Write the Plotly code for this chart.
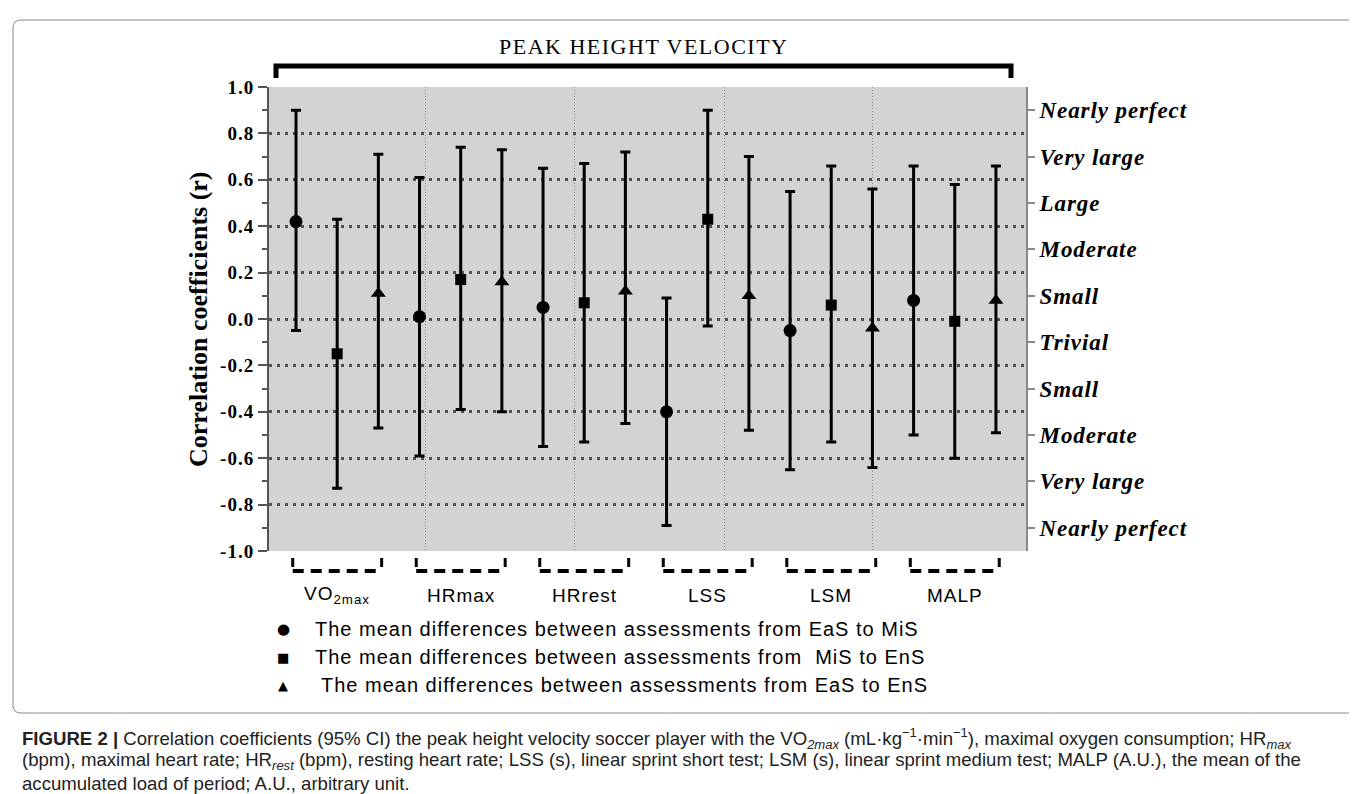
import plotly.graph_objects as go

# ---------------- data ----------------
groups = ["VO<sub>2max</sub>", "HRmax", "HRrest", "LSS", "LSM", "MALP"]

eas_mis_r  = [0.42, 0.01, 0.05, -0.40, -0.05, 0.08]
eas_mis_lo = [-0.05, -0.59, -0.55, -0.89, -0.65, -0.50]
eas_mis_hi = [0.90, 0.61, 0.65, 0.09, 0.55, 0.66]

mis_ens_r  = [-0.15, 0.17, 0.07, 0.43, 0.06, -0.01]
mis_ens_lo = [-0.73, -0.39, -0.53, -0.03, -0.53, -0.60]
mis_ens_hi = [0.43, 0.74, 0.67, 0.90, 0.66, 0.58]

eas_ens_r  = [0.11, 0.16, 0.12, 0.10, -0.04, 0.08]
eas_ens_lo = [-0.47, -0.40, -0.45, -0.48, -0.64, -0.49]
eas_ens_hi = [0.71, 0.73, 0.72, 0.70, 0.56, 0.66]

series_names = [
    "The mean differences between assessments from EaS to MiS",
    "The mean differences between assessments from&nbsp; MiS to EnS",
    "The mean differences between assessments from EaS to EnS",
]

y_ticks = [1.0, 0.8, 0.6, 0.4, 0.2, 0.0, -0.2, -0.4, -0.6, -0.8, -1.0]
y_ticktext = ["1.0", "0.8", "0.6", "0.4", "0.2", "0.0", "-0.2", "-0.4", "-0.6", "-0.8", "-1.0"]
grid_vals = [0.8, 0.6, 0.4, 0.2, 0.0, -0.2, -0.4, -0.6, -0.8]
right_vals = [0.9, 0.7, 0.5, 0.3, 0.1, -0.1, -0.3, -0.5, -0.7, -0.9]
right_text = ["Nearly perfect", "Very large", "Large", "Moderate", "Small",
              "Trivial", "Small", "Moderate", "Very large", "Nearly perfect"]
vgrid_x = [4.157, 7.776, 11.395, 14.99]

# ---------------- layout geometry (pixels) ----------------
FW, FH = 1357, 794
L, R_px, T, B_px = 261, 1018, 79, 543
W, H = R_px - L, B_px - T


def px_x(p):
    return (p - L) / W


def px_y(p):
    return (B_px - p) / H


def ls(text, s):
    return f"<span style='letter-spacing:{s}px'>{text}</span>"


fig = go.Figure()

series = [
    (eas_mis_r, eas_mis_lo, eas_mis_hi, "circle", 13),
    (mis_ens_r, mis_ens_lo, mis_ens_hi, "square", 11),
    (eas_ens_r, eas_ens_lo, eas_ens_hi, "triangle-up", 13),
]
for si, (r, lo, hi, sym, sz) in enumerate(series):
    xs = [g * 3 + si + 1 for g in range(len(groups))]
    fig.add_trace(go.Scatter(
        x=xs, y=r, mode="markers",
        name=series_names[si],
        marker=dict(symbol=sym, size=sz, color="black"),
        error_y=dict(type="data", symmetric=False,
                     array=[h - v for h, v in zip(hi, r)],
                     arrayminus=[v - l for v, l in zip(r, lo)],
                     color="black", thickness=3, width=5),
        showlegend=False, hoverinfo="skip",
    ))

# dummy traces so the overlay axes are drawn
fig.add_trace(go.Scatter(x=[None], y=[None], yaxis="y2", showlegend=False, hoverinfo="skip"))
fig.add_trace(go.Scatter(x=[None], y=[None], yaxis="y3", showlegend=False, hoverinfo="skip"))

serif = "Liberation Serif, Times New Roman, serif"
sans = "Liberation Sans, Arial, sans-serif"

fig.update_layout(
    width=FW, height=FH,
    margin=dict(l=L, r=FW - R_px, t=T, b=FH - B_px, autoexpand=False),
    plot_bgcolor="#d3d3d3", paper_bgcolor="white", showlegend=False,
    xaxis=dict(range=[0.344, 18.73], tickvals=vgrid_x, showticklabels=False, ticks="",
               showgrid=True, gridcolor="#8c8c8c", gridwidth=1, griddash="1px,2px",
               zeroline=False, showline=False),
    yaxis=dict(range=[-1, 1], tickvals=y_ticks, ticktext=[ls(t, 1.0) for t in y_ticktext],
               ticks="outside", ticklen=9, tickwidth=2, tickcolor="#555",
               showline=True, linecolor="#555", linewidth=2,
               showgrid=False, zeroline=False,
               tickfont=dict(family=serif, size=19, color="black", weight="bold"),
               minor=dict(dtick=0.1, tick0=0, ticks="outside", ticklen=5,
                          tickcolor="#555", tickwidth=1.5, showgrid=False)),
    yaxis2=dict(overlaying="y", side="right", anchor="x", range=[-1, 1],
                tickvals=right_vals, ticktext=[ls(t, 0.9) for t in right_text],
                ticks="outside", ticklen=7, tickwidth=2, tickcolor="#888",
                showline=True, linecolor="#888", linewidth=2,
                showgrid=False, zeroline=False,
                tickfont=dict(family=serif, size=23, color="black", weight="bold", style="italic")),
    yaxis3=dict(overlaying="y", range=[-1, 1], tickvals=grid_vals, showticklabels=False,
                ticks="", showgrid=True, gridcolor="#505050", gridwidth=2.5,
                griddash="2.5px,5.5px", zeroline=False, showline=False),
)

shapes = []
annotations = []

# outer rounded frame
fx0, fx1, fy0, fy1 = px_x(5), px_x(1352), px_y(705), px_y(12)
rx, ry = 8 / W, 8 / H
frame_path = (f"M {fx0 + rx},{fy1} L {fx1 - rx},{fy1} Q {fx1},{fy1} {fx1},{fy1 - ry} "
              f"L {fx1},{fy0 + ry} Q {fx1},{fy0} {fx1 - rx},{fy0} "
              f"L {fx0 + rx},{fy0} Q {fx0},{fy0} {fx0},{fy0 + ry} "
              f"L {fx0},{fy1 - ry} Q {fx0},{fy1} {fx0 + rx},{fy1} Z")
shapes.append(dict(type="path", xref="paper", yref="paper", path=frame_path,
                   line=dict(color="#8a8a8a", width=1)))

# top bracket
bx0, bx1 = px_x(268), px_x(1003)
by_line, by_stub = px_y(58), px_y(70)
shapes.append(dict(type="path", xref="paper", yref="paper",
                   path=f"M {bx0},{by_stub} L {bx0},{by_line} L {bx1},{by_line} L {bx1},{by_stub}",
                   line=dict(color="black", width=5)))
annotations.append(dict(xref="paper", yref="paper", x=px_x(636), y=px_y(39),
                        text=ls("PEAK HEIGHT VELOCITY", 1.5), showarrow=False,
                        font=dict(family=serif, size=22, color="black"),
                        xanchor="center", yanchor="middle"))

# y-axis title
annotations.append(dict(xref="paper", yref="paper", x=px_x(190), y=0.5,
                        text="Correlation coefficients (r)", textangle=-90, showarrow=False,
                        font=dict(family=serif, size=26, color="black", weight="bold"),
                        xanchor="center", yanchor="middle"))

# group brackets and labels
half = 1.08
for g, name in enumerate(groups):
    c = g * 3 + 2
    shapes.append(dict(type="line", xref="x", yref="paper", x0=c - half, x1=c + half,
                       y0=px_y(563), y1=px_y(563),
                       line=dict(color="black", width=4, dash="11px,7px")))
    for xe in (c - half, c + half):
        shapes.append(dict(type="line", xref="x", yref="paper", x0=xe, x1=xe,
                           y0=px_y(550), y1=px_y(559), line=dict(color="black", width=3)))
    annotations.append(dict(xref="x", yref="paper", x=c, y=px_y(587),
                            text=ls(name, 1.0), showarrow=False,
                            font=dict(family=sans, size=19, color="black"),
                            xanchor="center", yanchor="middle"))

# legend (manual)
symbols = ["●", "■", "▲"]
sym_sizes = [15, 13, 13]
rows = [621, 649, 677]
text_x = [305, 305, 311]
for i in range(3):
    annotations.append(dict(xref="paper", yref="paper", x=px_x(275), y=px_y(rows[i]),
                            text=symbols[i], showarrow=False,
                            font=dict(family="DejaVu Sans", size=sym_sizes[i], color="black"),
                            xanchor="center", yanchor="middle"))
    annotations.append(dict(xref="paper", yref="paper", x=px_x(text_x[i]), y=px_y(rows[i]),
                            text=ls(series_names[i], 1.0), showarrow=False,
                            font=dict(family=sans, size=20, color="black"),
                            xanchor="left", yanchor="middle"))

# caption
cap_lines = [
    "<b>FIGURE 2 |</b> Correlation coefficients (95% CI) the peak height velocity soccer player with the "
    "VO<sub><i>2max</i></sub> (mL·kg<sup>−1</sup>·min<sup>−1</sup>), maximal oxygen consumption; HR<sub><i>max</i></sub>",
    "(bpm), maximal heart rate; HR<sub><i>rest</i></sub> (bpm), resting heart rate; LSS (s), linear sprint short test; "
    "LSM (s), linear sprint medium test; MALP (A.U.), the mean of the",
    "accumulated load of period; A.U., arbitrary unit.",
]
cap_y = [730, 752.5, 775]
for line, yy in zip(cap_lines, cap_y):
    annotations.append(dict(xref="paper", yref="paper", x=px_x(12), y=px_y(yy),
                            text=line, showarrow=False,
                            font=dict(family=sans, size=18.6, color="#222"),
                            xanchor="left", yanchor="middle"))

fig.update_layout(shapes=shapes, annotations=annotations)

fig.write_html("out.html")
